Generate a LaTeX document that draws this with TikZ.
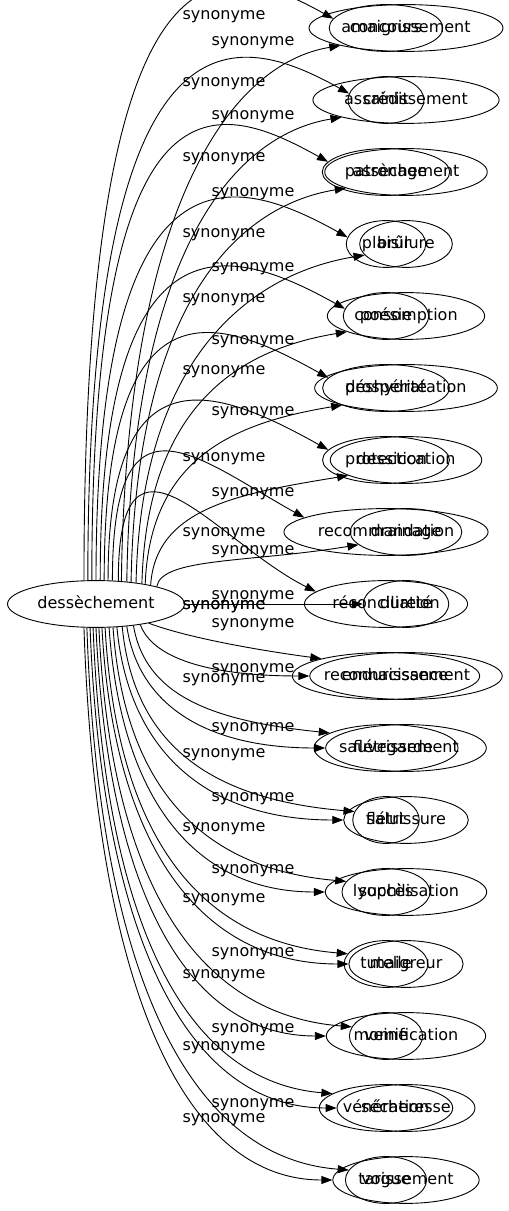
\documentclass[tikz,border=0pt]{standalone}
\usepackage{fontspec}
\setmainfont{DejaVu Sans}
\usetikzlibrary{positioning, shapes.geometric, arrows.meta}

\begin{document}
\begin{tikzpicture}
  [x=1pt,y=1pt,
   wordbox/.style={draw,ellipse,line width=0.9pt,inner xsep=4pt,inner ysep=8.8pt,text height=12pt,text depth=3.5pt,font=\fontsize{16}{19}\selectfont},
   synlabel/.style={inner sep=0pt,text height=12pt,text depth=3.5pt,font=\fontsize{16}{19}\selectfont},
   synedge/.style={line width=0.9pt,-{Triangle[length=11pt,width=8pt]}}]
  \useasboundingbox (0,0) rectangle (509,1211);
  \clip (0,0) rectangle (509,1211);
  \node (dessechement) at (96,607) [wordbox] {dessèchement};
  \node (amaigrissement) at (406,1183) [wordbox] {amaigrissement};
  \node (assainissement) at (406,1111) [wordbox] {assainissement};
  \node (assechement) at (406,1039) [wordbox] {assèchement};
  \node (brulure) at (406,967) [wordbox] {brûlure};
  \node (consomption) at (406,895) [wordbox] {consomption};
  \node (deshydratation) at (406,823) [wordbox] {déshydratation};
  \node (dessiccation) at (406,751) [wordbox] {dessiccation};
  \node (drainage) at (406,679) [wordbox] {drainage};
  \node (durete) at (406,607) [wordbox] {dureté};
  \node (endurcissement) at (406,535) [wordbox] {endurcissement};
  \node (fletrissement) at (406,463) [wordbox] {flétrissement};
  \node (fletrissure) at (406,391) [wordbox] {flétrissure};
  \node (lyophilisation) at (406,319) [wordbox] {lyophilisation};
  \node (maigreur) at (406,247) [wordbox] {maigreur};
  \node (momification) at (406,175) [wordbox] {momification};
  \node (secheresse) at (406,103) [wordbox] {sécheresse};
  \node (tarissement) at (406,31) [wordbox] {tarissement};
  \node (concours) at (386,1183) [wordbox] {concours};
  \node (credit) at (386,1111) [wordbox] {crédit};
  \node (patronage) at (386,1039) [wordbox] {patronage};
  \node (plaisir) at (386,967) [wordbox] {plaisir};
  \node (poesie) at (386,895) [wordbox] {poésie};
  \node (prosperite) at (386,823) [wordbox] {prospérité};
  \node (protection) at (386,751) [wordbox] {protection};
  \node (recommandation) at (386,679) [wordbox] {recommandation};
  \node (reconciliation) at (386,607) [wordbox] {réconciliation};
  \node (reconnaissance) at (386,535) [wordbox] {reconnaissance};
  \node (sauvegarde) at (386,463) [wordbox] {sauvegarde};
  \node (salut) at (386,391) [wordbox] {salut};
  \node (succes) at (386,319) [wordbox] {succès};
  \node (tutelle) at (386,247) [wordbox] {tutelle};
  \node (veine) at (386,175) [wordbox] {veine};
  \node (veneration) at (386,103) [wordbox] {vénération};
  \node (vogue) at (386,31) [wordbox] {vogue};
  \node (syn0) at (224,1196) [synlabel] {synonyme};
  \node (syn1) at (253,1170) [synlabel] {synonyme};
  \node (syn2) at (224,1129) [synlabel] {synonyme};
  \node (syn3) at (253,1096) [synlabel] {synonyme};
  \node (syn4) at (224,1054) [synlabel] {synonyme};
  \node (syn5) at (253,1019) [synlabel] {synonyme};
  \node (syn6) at (224,978) [synlabel] {synonyme};
  \node (syn7) at (253,944) [synlabel] {synonyme};
  \node (syn8) at (224,913) [synlabel] {synonyme};
  \node (syn9) at (253,871) [synlabel] {synonyme};
  \node (syn10) at (224,841) [synlabel] {synonyme};
  \node (syn11) at (253,800) [synlabel] {synonyme};
  \node (syn12) at (224,754) [synlabel] {synonyme};
  \node (syn13) at (253,719) [synlabel] {synonyme};
  \node (syn14) at (224,679) [synlabel] {synonyme};
  \node (syn15) at (253,661) [synlabel] {synonyme};
  \node (syn16) at (253,616) [synlabel] {synonyme};
  \node (syn17) at (224,606) [synlabel] {synonyme};
  \node (syn18) at (253,588) [synlabel] {synonyme};
  \node (syn19) at (253,543) [synlabel] {synonyme};
  \node (syn20) at (224,533) [synlabel] {synonyme};
  \node (syn21) at (253,484) [synlabel] {synonyme};
  \node (syn22) at (224,458) [synlabel] {synonyme};
  \node (syn23) at (253,414) [synlabel] {synonyme};
  \node (syn24) at (224,384) [synlabel] {synonyme};
  \node (syn25) at (253,342) [synlabel] {synonyme};
  \node (syn26) at (224,313) [synlabel] {synonyme};
  \node (syn27) at (253,259) [synlabel] {synonyme};
  \node (syn28) at (224,237) [synlabel] {synonyme};
  \node (syn29) at (253,183) [synlabel] {synonyme};
  \node (syn30) at (224,165) [synlabel] {synonyme};
  \node (syn31) at (253,108) [synlabel] {synonyme};
  \node (syn32) at (224,93) [synlabel] {synonyme};
  \node (syn33) at (224,606) [synlabel] {synonyme};
  \draw [synedge] (dessechement.117) .. controls +(0,670) and +(-108,60) .. (concours.170);
  \draw [synedge] (dessechement.109) .. controls +(0,598) and +(-108,60) .. (credit.170);
  \draw [synedge] (dessechement.100) .. controls +(0,526) and +(-108,60) .. (patronage.170);
  \draw [synedge] (dessechement.90) .. controls +(0,454) and +(-108,60) .. (plaisir.170);
  \draw [synedge] (dessechement.80) .. controls +(0,382) and +(-108,60) .. (poesie.170);
  \draw [synedge] (dessechement.71) .. controls +(0,310) and +(-108,60) .. (prosperite.170);
  \draw [synedge] (dessechement.63) .. controls +(0,238) and +(-108,60) .. (protection.170);
  \draw [synedge] (dessechement.55) .. controls +(0,200) and +(-108,60) .. (recommandation.170);
  \draw [synedge] (dessechement.46) .. controls +(0,180) and +(-100,50) .. (reconciliation.170);
  \draw [synedge] (dessechement.42) .. controls +(5,375) and +(-110,-18) .. (amaigrissement.195);
  \draw [synedge] (dessechement.36) .. controls +(5,325) and +(-110,-18) .. (assainissement.195);
  \draw [synedge] (dessechement.32) .. controls +(5,276) and +(-110,-18) .. (assechement.195);
  \draw [synedge] (dessechement.28) .. controls +(5,230) and +(-110,-18) .. (brulure.195);
  \draw [synedge] (dessechement.24) .. controls +(5,176) and +(-110,-18) .. (consomption.195);
  \draw [synedge] (dessechement.22) .. controls +(5,125) and +(-110,-18) .. (deshydratation.195);
  \draw [synedge] (dessechement.19) .. controls +(5,77) and +(-110,-18) .. (dessiccation.195);
  \draw [synedge] (dessechement.16) .. controls +(5,29) and +(-110,-18) .. (drainage.195);
  \draw [synedge] (dessechement) -- (durete);
  \draw [synedge] (dessechement.340) .. controls +(40,-15) and +(-60,8) .. (reconnaissance.165);
  \draw [synedge] (dessechement.335) .. controls +(12,-33) and +(-102,0) .. (endurcissement.west);
  \draw [synedge] (dessechement.330) .. controls +(12,-70) and +(-118,12) .. (sauvegarde.165);
  \draw [synedge] (dessechement.324) .. controls +(12,-79) and +(-119,0) .. (fletrissement.west);
  \draw [synedge] (dessechement.319) .. controls +(12,-121) and +(-140,12) .. (salut.165);
  \draw [synedge] (dessechement.312) .. controls +(12,-125) and +(-136,0) .. (fletrissure.west);
  \draw [synedge] (dessechement.306) .. controls +(12,-165) and +(-140,12) .. (succes.165);
  \draw [synedge] (dessechement.299) .. controls +(12,-172) and +(-130,0) .. (lyophilisation.west);
  \draw [synedge] (dessechement.291) .. controls +(12,-212) and +(-146,12) .. (tutelle.165);
  \draw [synedge] (dessechement.284) .. controls +(12,-219) and +(-148,0) .. (maigreur.west);
  \draw [synedge] (dessechement.277) .. controls +(12,-260) and +(-152,12) .. (veine.165);
  \draw [synedge] (dessechement.270) .. controls +(12,-266) and +(-138,0) .. (momification.west);
  \draw [synedge] (dessechement.263) .. controls +(12,-303) and +(-144,12) .. (veneration.165);
  \draw [synedge] (dessechement.256) .. controls +(12,-312) and +(-148,0) .. (secheresse.west);
  \draw [synedge] (dessechement.249) .. controls +(12,-353) and +(-157,12) .. (vogue.165);
  \draw [synedge] (dessechement.243) .. controls +(12,-359) and +(-149,0) .. (tarissement.west);
\end{tikzpicture}
\end{document}
